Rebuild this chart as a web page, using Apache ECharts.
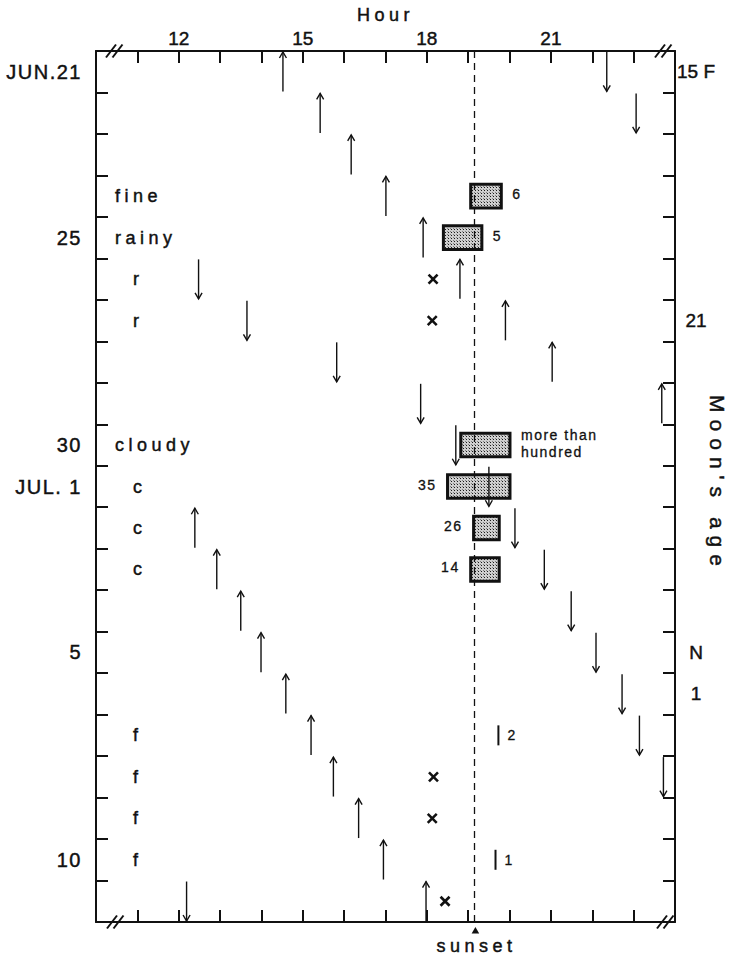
<!DOCTYPE html>
<html>
<head>
<meta charset="utf-8">
<script src="https://cdn.jsdelivr.net/npm/echarts@6/dist/echarts.min.js"></script>
<style>
  html, body { margin: 0; padding: 0; background: #fff; }
  #chart { width: 729px; height: 956px; }
  /* slightly heavier lettering */
  #chart svg text { stroke: #111; stroke-width: 0.45px; }
  /* spaced lettering of the words, keyed on font size */
  #chart svg text[style*="18px"] { letter-spacing: 4.5px; }
  #chart svg text[style*="21px"] { letter-spacing: 7px; }
  #chart svg text[style*="20px"] { letter-spacing: 1.5px; }
  #chart svg text[style*="14px"] { letter-spacing: 1.5px; stroke-width: 0.3px; }
</style>
</head>
<body>
<div id="chart"></div>
<script>
// ---- days (rows, top to bottom) ----
const days = ['Jun 21','Jun 22','Jun 23','Jun 24','Jun 25','Jun 26','Jun 27','Jun 28','Jun 29','Jun 30',
              'Jul 1','Jul 2','Jul 3','Jul 4','Jul 5','Jul 6','Jul 7','Jul 8','Jul 9','Jul 10','Jul 11'];
const dateLabels = ['JUN.21','','','','25','','','','','30','JUL. 1','','','','5','','','','','10',''];
const weather    = ['','','','fine','rainy','r','r','','','cloudy','c','c','c','','','','f','f','f','f',''];
const moonAge    = ['15 F','','','','','','21','','','','','','','','N','1','','','','',''];

// ---- hour axis ----
const hourTicks = [12, 15, 18, 21];
const sunsetHour = 19.15;

// moon rising (up arrows) and setting (down arrows): [hour, day index]
const moonUp = [[14.52,0],[15.42,1],[16.17,2],[17.01,3],[17.91,4],[18.80,5],[19.90,6],[21.03,7],[23.68,8],
                [12.39,11],[12.92,12],[13.50,13],[13.99,14],[14.59,15],[15.20,16],[15.74,17],[16.35,18],[16.95,19],[17.98,20]];
const moonDown = [[22.35,0],[23.06,1],[12.48,5],[13.65,6],[15.82,7],[17.85,8],[18.70,9],[19.50,10],[20.13,11],
                  [20.84,12],[21.49,13],[22.09,14],[22.72,15],[23.14,16],[23.72,17],[12.19,20]];

// flight periods with counts
const flightDay   = [3, 4, 9, 10, 11, 12];
const flightFrom  = [19.06, 18.40, 18.82, 18.50, 19.13, 19.06];
const flightTo    = [19.80, 19.33, 20.01, 20.01, 19.75, 19.75];
const flightCount = ['6', '5', 'more than\nhundred', '35', '26', '14'];

// single short observations
const fewDay = [16, 19];
const fewHour = [19.73, 19.66];
const fewCount = ['2', '1'];

// nights with none seen
const noneDay = [5, 6, 17, 18, 20];
const noneHour = [18.15, 18.13, 18.16, 18.13, 18.44];

// ---------------------------------------------------------------
const INK = '#111';
const FONT = 'Liberation Sans';

// stipple fill for the flight boxes
const tile = document.createElement('canvas');
tile.width = 3; tile.height = 3;
(function () {
  const c = tile.getContext('2d');
  c.fillStyle = '#cfcfcf'; c.fillRect(0, 0, 3, 3);
  c.fillStyle = '#1a1a1a'; c.fillRect(1, 1, 1, 1);
  c.fillStyle = '#808080'; c.fillRect(0, 0, 1, 1);
})();
const stipple = { image: tile.toDataURL(), repeat: 'repeat', imageWidth: 3, imageHeight: 3 };

function arrowRenderer(up) {
  return function (params, api) {
    const p = api.coord([api.value(0), api.value(1)]);
    const half = api.size([0, 1])[1] / 2;
    const y0 = p[1] - half + 1, y1 = p[1] + half - 1;
    const tip = up ? y0 : y1, d = up ? 6 : -6;
    return {
      type: 'group',
      children: [
        { type: 'line', shape: { x1: p[0], y1: y0, x2: p[0], y2: y1 },
          style: { stroke: INK, lineWidth: 1.4 } },
        { type: 'polyline', shape: { points: [[p[0] - 3.5, tip + d], [p[0], tip], [p[0] + 3.5, tip + d]] },
          style: { stroke: INK, fill: null, lineWidth: 1.4 } }
      ]
    };
  };
}

function flightRenderer(params, api) {
  const i = params.dataIndex;
  const a = api.coord([api.value(0), api.value(2)]);
  const b = api.coord([api.value(1), api.value(2)]);
  const h = api.size([0, 1])[1] * 0.57;
  const onLeft = flightDay[i] >= 10;
  return {
    type: 'group',
    children: [
      { type: 'rect', shape: { x: a[0], y: a[1] - h / 2, width: b[0] - a[0], height: h },
        style: { fill: stipple, stroke: INK, lineWidth: 3 } },
      { type: 'text', x: onLeft ? a[0] - 11 : b[0] + 11, y: a[1] - 2,
        style: { text: flightCount[i], align: onLeft ? 'right' : 'left', verticalAlign: 'middle',
                 fontSize: 14, fontFamily: FONT, fill: INK, lineHeight: 17 } }
    ]
  };
}

function fewRenderer(params, api) {
  const i = params.dataIndex;
  const p = api.coord([api.value(0), api.value(1)]);
  return {
    type: 'group',
    children: [
      { type: 'line', shape: { x1: p[0], y1: p[1] - 10, x2: p[0], y2: p[1] + 10 },
        style: { stroke: INK, lineWidth: 2 } },
      { type: 'text', x: p[0] + 9, y: p[1],
        style: { text: fewCount[i], align: 'left', verticalAlign: 'middle',
                 fontSize: 14, fontFamily: FONT, fill: INK } }
    ]
  };
}

function noneRenderer(params, api) {
  const p = api.coord([api.value(0), api.value(1)]);
  const r = 4.5;
  return {
    type: 'group',
    children: [
      { type: 'line', shape: { x1: p[0] - r, y1: p[1] - r, x2: p[0] + r, y2: p[1] + r },
        style: { stroke: INK, lineWidth: 2.6 } },
      { type: 'line', shape: { x1: p[0] - r, y1: p[1] + r, x2: p[0] + r, y2: p[1] - r },
        style: { stroke: INK, lineWidth: 2.6 } }
    ]
  };
}

function sunsetRenderer(params, api) {
  const cs = params.coordSys;
  const x = api.coord([api.value(0), 0])[0];
  const yb = cs.y + cs.height;
  return {
    type: 'group',
    children: [
      { type: 'polygon', shape: { points: [[x + 1, yb + 5], [x - 2.8, yb + 11.5], [x + 4.8, yb + 11.5]] },
        style: { fill: INK } },
      { type: 'text', x: x + 2, y: yb + 24,
        style: { text: 'sunset', align: 'center', verticalAlign: 'middle',
                 fontSize: 18, fontFamily: FONT, fill: INK } }
    ]
  };
}

// axis-break marks at the four corners
function breakMark(bx, cy) {
  return [0, 1].map(k => ({
    type: 'line',
    shape: { x1: bx + k * 6.5, y1: cy + 6.5, x2: bx + k * 6.5 + 10, y2: cy - 6.5 },
    style: { stroke: INK, lineWidth: 2 },
    z: 20
  }));
}

const axisLine = { show: true, lineStyle: { color: INK, width: 2 } };
const axisTick = { show: true, inside: true, length: 12, lineStyle: { color: INK, width: 2 } };

const chart = echarts.init(document.getElementById('chart'), null, { renderer: 'svg' });

chart.setOption({
  animation: false,
  backgroundColor: '#fff',
  textStyle: { fontFamily: FONT, color: INK },
  grid: { left: 96, top: 51, right: 54, bottom: 34, containLabel: false, outerBoundsMode: 'none' },
  xAxis: [
    {
      type: 'value', position: 'top', min: 10, max: 24, interval: 1,
      name: 'Hour', nameLocation: 'middle', nameGap: 27,
      nameTextStyle: { fontSize: 18, fontFamily: FONT, color: INK },
      axisLine, axisTick,
      axisLabel: { formatter: v => hourTicks.includes(v) ? String(v) : '', margin: 3,
                   fontSize: 19, fontFamily: FONT, color: INK, showMinLabel: true, showMaxLabel: true },
      splitLine: { show: false }
    },
    {
      type: 'value', position: 'bottom', min: 10, max: 24, interval: 1,
      axisLine, axisTick, axisLabel: { show: false }, splitLine: { show: false }
    }
  ],
  yAxis: [
    {
      type: 'category', data: days, inverse: true, position: 'left',
      axisLine, axisTick,
      axisLabel: { interval: 0, formatter: (v, i) => dateLabels[i], margin: 14,
                   fontSize: 20, fontFamily: FONT, color: INK }
    },
    {
      type: 'category', data: days, inverse: true, position: 'left',
      axisLine: { show: false }, axisTick: { show: false },
      axisLabel: {
        interval: 0, inside: true, margin: 19, align: 'left',
        fontSize: 18, fontFamily: FONT, color: INK,
        formatter: (v, i) => weather[i].length > 1 ? weather[i] : (weather[i] ? '{s|' + weather[i] + '}' : ''),
        rich: { s: { padding: [0, 0, 0, 18], fontSize: 18, fontFamily: FONT, color: INK } }
      }
    },
    {
      type: 'category', data: days, inverse: true, position: 'right',
      axisLine, axisTick,
      axisLabel: { interval: 0, formatter: (v, i) => moonAge[i], margin: 21, align: 'center',
                   fontSize: 19, fontFamily: FONT, color: INK }
    }
  ],
  series: [
    {
      type: 'custom', name: 'flight', z: 2, renderItem: flightRenderer,
      data: flightDay.map((d, i) => [flightFrom[i], flightTo[i], d]),
      markLine: {
        silent: true, symbol: 'none', z: 5,
        label: { show: false },
        lineStyle: { color: INK, width: 1.3, type: [7, 5] },
        data: [{ xAxis: sunsetHour }]
      }
    },
    { type: 'custom', name: 'moon up', z: 3, renderItem: arrowRenderer(true), data: moonUp },
    { type: 'custom', name: 'moon down', z: 3, renderItem: arrowRenderer(false), data: moonDown },
    { type: 'custom', name: 'few', z: 3, renderItem: fewRenderer,
      data: fewDay.map((d, i) => [fewHour[i], d]) },
    { type: 'custom', name: 'none', z: 3, renderItem: noneRenderer,
      data: noneDay.map((d, i) => [noneHour[i], d]) },
    { type: 'custom', name: 'sunset', z: 3, renderItem: sunsetRenderer, data: [[sunsetHour]] }
  ],
  graphic: [].concat(
    breakMark(106, 51), breakMark(655, 51),
    breakMark(107, 922), breakMark(657, 922),
    [{
      // title of the right-hand scale, reading downward
      type: 'text', x: 717, y: 484, rotation: -Math.PI / 2, z: 20,
      style: { text: "Moon's age", align: 'center', verticalAlign: 'middle',
               fontSize: 21, fontFamily: FONT, fill: INK }
    }]
  )
});
</script>
</body>
</html>
